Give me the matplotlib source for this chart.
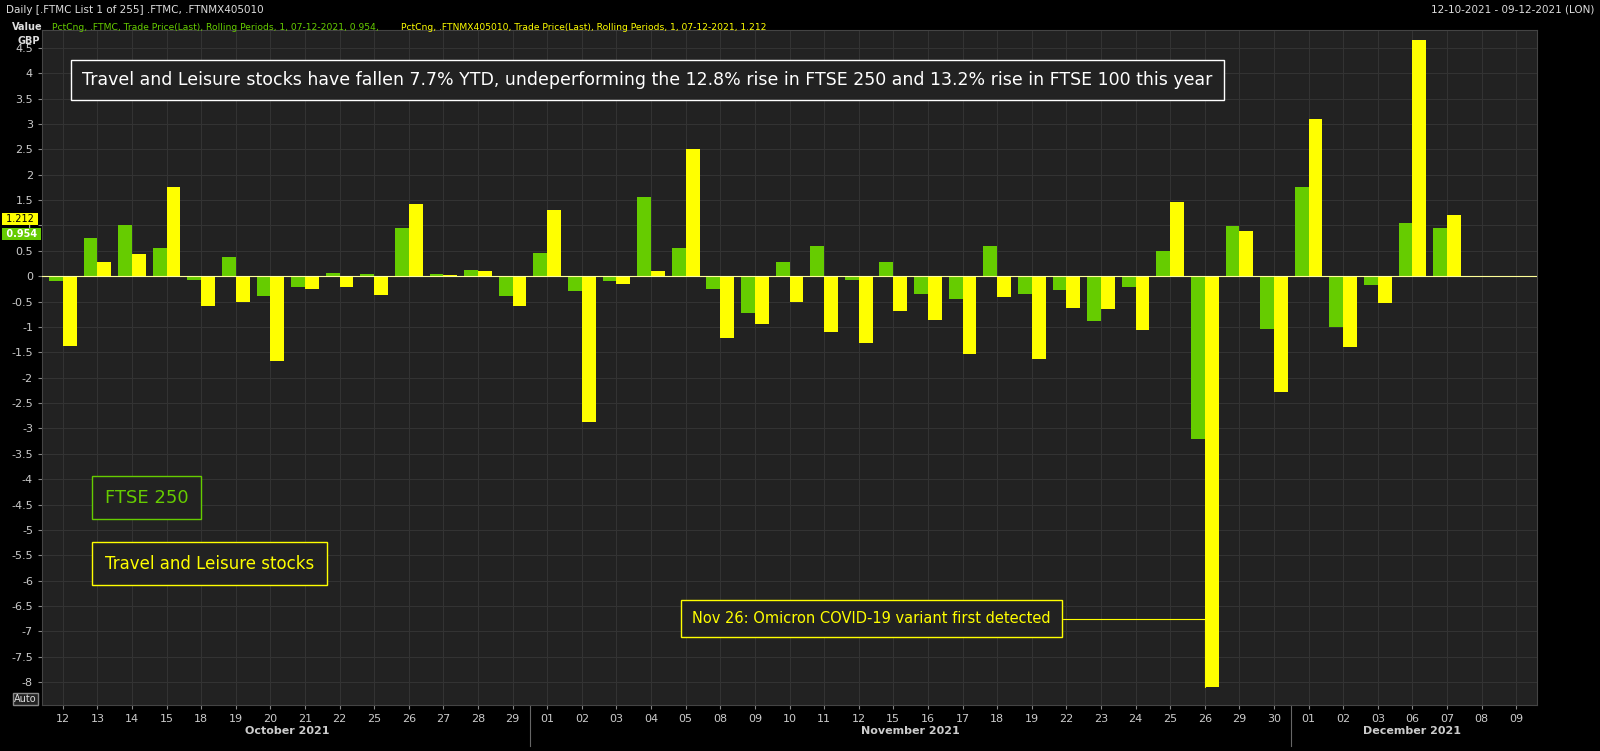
import matplotlib
matplotlib.use("Agg")
import matplotlib.pyplot as plt
import numpy as np

days = ["12","13","14","15","18","19","20","21","22","25","26","27","28","29",
        "01","02","03","04","05","08","09","10","11","12","15","16","17","18","19","22","23","24","25","26","29","30",
        "01","02","03","06","07","08","09"]
ftse250 = [-0.1,0.75,1.0,0.55,-0.08,0.38,-0.4,-0.22,0.07,0.05,0.95,0.05,0.12,-0.4,
           0.45,-0.3,-0.1,1.55,0.55,-0.25,-0.73,0.28,0.6,-0.08,0.28,-0.35,-0.45,0.6,-0.35,-0.28,-0.88,-0.22,0.5,-3.2,0.98,-1.05,
           1.76,-1.0,-0.18,1.05,0.954]
travel = [-1.38,0.28,0.44,1.76,-0.58,-0.5,-1.67,-0.26,-0.22,-0.38,1.42,0.03,0.1,-0.58,
          1.3,-2.88,-0.15,0.1,2.5,-1.22,-0.95,-0.5,-1.1,-1.32,-0.68,-0.87,-1.54,-0.42,-1.63,-0.62,-0.65,-1.06,1.47,-8.1,0.88,-2.28,
          3.1,-1.4,-0.52,4.66,1.212]
months = [("October 2021", 0, 13), ("November 2021", 14, 35), ("December 2021", 36, 42)]

W, H = 1600, 751
fig = plt.figure(figsize=(W/100, H/100), dpi=100, facecolor="#000000")
ax = fig.add_axes([42/W, 1-705/H, (1537-42)/W, (705-30)/H])
ax.set_facecolor("#222222")
x = np.arange(len(days))
n = len(ftse250)
bw = 0.4
ax.bar(x[:n]-bw/2, ftse250, bw, color="#66cc00", zorder=3)
ax.bar(x[:n]+bw/2, travel, bw, color="#ffff00", zorder=3)
ax.axhline(0, color="#ffff99", lw=0.8, zorder=4)
ax.set_xlim(-0.6, len(days)-0.4)
ax.set_ylim(-8.45, 4.85)
yt = np.arange(-8, 4.51, 0.5)
ax.set_yticks(yt)
ax.set_yticklabels([("%g" % v) for v in yt], fontsize=8)
ax.set_xticks(x)
ax.set_xticklabels(days, fontsize=8)
ax.grid(True, color="#333333", lw=0.8, zorder=0)
for s in ax.spines.values():
    s.set_color("#444444")
ax.tick_params(colors="#888888", length=3)
for lab in ax.get_yticklabels()+ax.get_xticklabels():
    lab.set_color("#cccccc")
for name, a, b in months:
    fig.text((42 + (1537-42)*((a+b)/2+0.6)/(len(days)-0.4+0.6))/W, 1-731/H, name,
             color="#cccccc", fontsize=8, fontweight="bold", ha="center", va="center")
for b in [13.5, 35.5]:
    ax.axvline(b, ymin=-0.06, ymax=0, color="#666666", lw=0.8, clip_on=False)

fig.text(6/W, 1-10/H, "Daily [.FTMC List 1 of 255] .FTMC, .FTNMX405010", color="#dddddd", fontsize=7.5, va="center")
fig.text(1594/W, 1-10/H, "12-10-2021 - 09-12-2021 (LON)", color="#dddddd", fontsize=7.5, va="center", ha="right")
fig.text(12/W, 1-27/H, "Value", color="#dddddd", fontsize=7, fontweight="bold", va="center")
fig.text(18/W, 1-41/H, "GBP", color="#dddddd", fontsize=7, fontweight="bold", va="center")
fig.text(52/W, 1-27/H, "PctCng, .FTMC, Trade Price(Last), Rolling Periods, 1, 07-12-2021, 0.954,", color="#66cc00", fontsize=6.6, va="center")
fig.text(401/W, 1-27/H, "PctCng, .FTNMX405010, Trade Price(Last), Rolling Periods, 1, 07-12-2021, 1.212", color="#ffff00", fontsize=6.6, va="center")
fig.text(3/W, 1-219/H, " 1.212 ", color="black", fontsize=7, va="center", bbox=dict(fc="#ffff00", ec="none", pad=0.5))
fig.text(3/W, 1-234/H, " 0.954 ", color="white", fontsize=7, fontweight="bold", va="center", bbox=dict(fc="#66cc00", ec="none", pad=0.5))
fig.text(14/W, 1-699/H, "Auto", color="#dddddd", fontsize=7, va="center", bbox=dict(fc="#222222", ec="#888888", pad=1))

ax.text(0.027, 0.926, "Travel and Leisure stocks have fallen 7.7% YTD, undeperforming the 12.8% rise in FTSE 250 and 13.2% rise in FTSE 100 this year",
        transform=ax.transAxes, color="white", fontsize=12.5, va="center",
        bbox=dict(fc="#222222", ec="white", pad=8))
ax.text(0.042, 0.307, "FTSE 250", transform=ax.transAxes, color="#66cc00", fontsize=13, va="center",
        bbox=dict(fc="#222222", ec="#66cc00", pad=9))
ax.text(0.042, 0.209, "Travel and Leisure stocks", transform=ax.transAxes, color="#ffff00", fontsize=12, va="center",
        bbox=dict(fc="#222222", ec="#ffff00", pad=9))
ax.annotate("Nov 26: Omicron COVID-19 variant first detected", xy=(33, -8.1), xytext=(0.435, 0.128),
            textcoords="axes fraction", color="#ffff00", fontsize=10.5, va="center",
            bbox=dict(fc="#222222", ec="#ffff00", pad=8),
            arrowprops=dict(arrowstyle="-", color="#ffff00", lw=0.8, shrinkA=0, shrinkB=0,
                            connectionstyle="angle,angleA=0,angleB=90"), zorder=2)
fig.savefig("out.png", dpi=100, facecolor="#000000")
